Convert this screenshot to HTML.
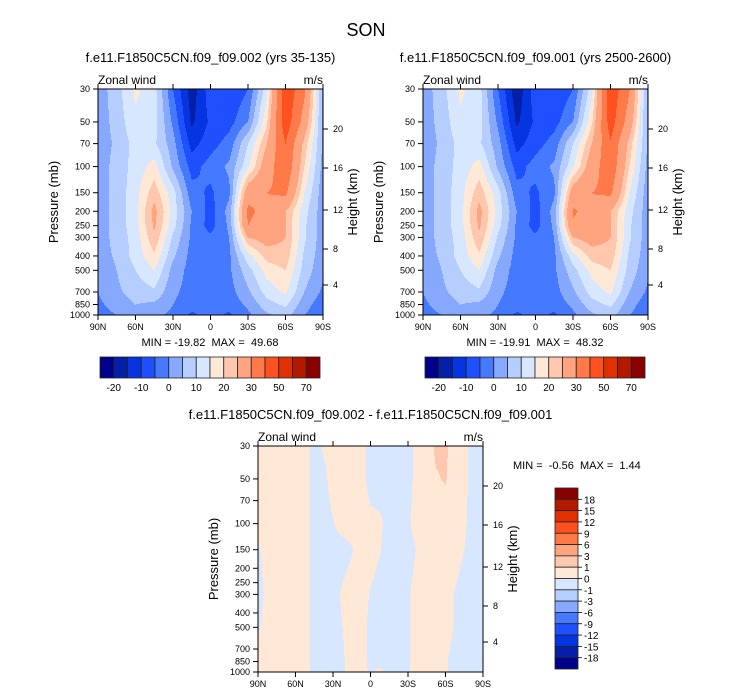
<!DOCTYPE html>
<html><head><meta charset="utf-8">
<style>
html,body{margin:0;padding:0;background:#fff;}
svg{display:block;font-family:"Liberation Sans",Arial,sans-serif;}
.pre{white-space:pre;}
</style></head>
<body>
<svg id="root" width="733" height="696" viewBox="0 0 733 696" xmlns="http://www.w3.org/2000/svg">
<text x="366" y="36" text-anchor="middle" font-size="18">SON</text>
</svg>
<script>
const lats = [90,75,60,45,30,15,0,-15,-30,-45,-60,-75,-90];
const pres = [30,50,70,100,150,200,250,300,400,500,700,850,1000];
const u1 = [
 [7,13,21,17,0,-13,-2,-5,0,18,58,42,8],
 [7,12,19,17,4,-11,-4,-2,5,24,56,36,8],
 [7,11,17,16,7,-7,-2,2,15,30,50,28,9],
 [7,12,17,22,9,-2,2,6,19,35,48,25,8],
 [7,12,18,28,17,2,-1,4,36,40,42,20,7],
 [7,12,18,32,18,5,-2,7,42,37,30,17,7],
 [7,12,18,31,17,4,-2,6,40,35,30,16,7],
 [7,12,17,29,14,4,1,5,30,33,30,16,7],
 [7,11,17,24,11,3,2,4,18,27,28,14,7],
 [6,10,15,20,8,3,2,4,13,22,25,13,6],
 [5,9,12,14,6,3,2,3,9,17,21,10,4],
 [4,7,10,9,5,2,2,2,6,13,16,7,2],
 [3,5,7,6,4,-1,2,-1,4,9,12,5,2]
];
const u2 = [
 [7,13,21,17,0,-14,-2,-5,0,18,57,41,8],
 [7,12,19,17,4,-11,-4,-2,5,24,55,35,8],
 [7,11,17,16,7,-7,-2,2,15,30,49,28,9],
 [7,12,17,22,9,-2,2,6,19,35,47,25,8],
 [7,12,18,28,17,2,-1,4,35,40,42,20,7],
 [7,12,18,32,18,5,-2,7,41,37,30,17,7],
 [7,12,18,31,17,4,-2,6,39,35,30,16,7],
 [7,12,17,29,14,4,1,5,30,33,30,16,7],
 [7,11,17,24,11,3,2,4,18,27,28,14,7],
 [6,10,15,20,8,3,2,4,13,22,25,13,6],
 [5,9,12,14,6,3,2,3,9,17,21,10,4],
 [4,7,10,9,5,2,2,2,6,13,16,7,2],
 [3,5,7,6,4,-1,2,-1,4,9,12,5,2]
];
const levels = [-20,-15,-10,-5,0,5,10,15,20,25,30,40,50,60,70];
const levelLabels = ["-20","-10","0","10","20","30","50","70"];
const diffLats = [90,82.5,75,67.5,60,52.5,45,37.5,30,22.5,15,7.5,0,-7.5,-15,-22.5,-30,-37.5,-45,-52.5,-60,-67.5,-75,-82.5,-90];
const diffPres = [30,50,100,150,300,500,850,1000];
const diffVals = [
 [.3,.3,.3,.3,.3,.3,-.3,.1,.3,.3,.3,.3,-.3,-.3,-.3,-.3,-.3,.3,.5,1.2,1.2,.4,.2,-.3,-.3],
 [.3,.3,.3,.3,.3,.3,-.3,-.2,.3,.3,.3,.3,-.3,-.3,-.3,-.3,-.3,.3,.5,.9,1.1,.4,.2,-.3,-.3],
 [.3,.3,.3,.3,.3,.3,-.3,-.3,-.05,.3,.3,.3,.2,.1,-.2,-.3,-.1,.3,.3,.3,.3,.3,.1,-.3,-.3],
 [-.1,.3,.3,.3,.3,.3,-.3,-.3,-.3,-.3,-.05,.3,.3,.05,-.3,-.3,-.3,.05,.3,.3,.3,.3,0,-.3,-.3],
 [-.3,.2,.3,.3,.3,.3,-.3,-.3,-.3,.1,.3,.3,-.05,-.3,-.3,-.3,-.1,.3,.3,.3,.3,-.05,-.3,-.3,-.3],
 [-.1,.3,.3,.3,.3,.3,-.3,-.3,-.3,0,.3,.3,-.2,-.3,-.3,-.3,-.1,.3,.3,.3,.3,-.05,-.3,-.3,-.3],
 [.3,.3,.3,.3,.3,.3,-.3,-.3,-.3,-.1,.3,.3,-.2,-.3,-.3,-.3,-.1,.3,.3,.3,.1,-.3,-.3,-.3,-.3],
 [.3,.3,.3,.3,.3,.3,-.3,-.3,-.3,-.1,.3,.3,-.1,.2,-.3,-.3,-.1,.3,.3,.3,.1,-.3,-.3,-.3,-.3]
];
const diffLevels = [-18,-15,-12,-9,-6,-3,-1,0,1,3,6,9,12,15,18];
const diffLabels = ["18","15","12","9","6","3","1","0","-1","-3","-6","-9","-12","-15","-18"];
const palette = ["#00008a","#0520a8","#0535e0","#1f50ff","#4579ff","#86a8ff","#b5cdff","#d6e7ff","#ffe8d6","#ffc8ae","#ffa47e","#ff7a48","#ff5020","#e13000","#b21a00","#8a0000"];
const latTicks = ["90N","60N","30N","0","30S","60S","90S"];
const presTicks = [30,50,70,100,150,200,250,300,400,500,700,850,1000];
const heightTicks = ["20","16","12","8","4"];
const heightRel = [40,79,121,160,196];

const NS="http://www.w3.org/2000/svg";
const root=document.getElementById('root');
function mk(tag,attrs,parent){const e=document.createElementNS(NS,tag);for(const k in attrs)e.setAttribute(k,attrs[k]);(parent||root).appendChild(e);return e;}
function txt(x,y,s,size,anchor,parent,extra){const t=mk('text',Object.assign({x:x,y:y,'font-size':size,'text-anchor':anchor||'start'},extra||{}),parent);t.textContent=s;return t;}

const LN0=Math.log(30), LNR=Math.log(1000/30);
function colorIndex(v,lv,shift){let i=0;while(i<lv.length&&v>=lv[i])i++;return Math.max(0,Math.min(palette.length-1,i-shift));}
function sample(latA,presA,vals,lat,p){
  const nL=latA.length; const fi=(latA[0]-lat)/(latA[0]-latA[nL-1])*(nL-1);
  const i0=Math.max(0,Math.min(nL-2,Math.floor(fi))); const fx=fi-i0;
  const lp=Math.log(p); let j0=0;
  while(j0<presA.length-2&&lp>Math.log(presA[j0+1]))j0++;
  const a=Math.log(presA[j0]),b=Math.log(presA[j0+1]); let fy=(lp-a)/(b-a); fy=Math.max(0,Math.min(1,fy));
  const v00=vals[j0][i0],v01=vals[j0][i0+1],v10=vals[j0+1][i0],v11=vals[j0+1][i0+1];
  return (v00*(1-fx)+v01*fx)*(1-fy)+(v10*(1-fx)+v11*fx)*fy;
}
function drawField(g,x0,y0,w,h,latA,presA,vals,lv,shift){
  for(let py=0;py<h;py++){
    const p=Math.exp(LN0+(py+0.5)/h*LNR);
    let runStart=0,runC=-1;
    for(let px=0;px<=w;px++){
      let c=-2;
      if(px<w){const lat=90-(px+0.5)/w*180;c=colorIndex(sample(latA,presA,vals,lat,p),lv,shift);}
      if(c!==runC){
        if(runC>=0){
          const r=mk('rect',{x:x0+runStart,y:y0+py,width:px-runStart,height:1.2,fill:palette[runC]},g);
          
          
        }
        runStart=px;runC=c;
      }
    }
  }
}
function yOfP(p,y0,h){return y0+h*Math.log(p/30)/LNR;}

function panel(x0,y0,w,h,title,titleY,latA,presA,vals,lv,shift,name){
  const g=mk('g',{});
  
  
  const t=txt(x0+w/2,titleY,title,13,'middle',g);
  
  
  const lz=txt(x0,y0-5,'Zonal wind',12,'start',g);
  
  
  const lu=txt(x0+w,y0-5,'m/s',12,'end',g);
  
  
  const fg=mk('g',{},g);
  
  
  drawField(fg,x0,y0,w,h,latA,presA,vals,lv,shift);
  const fr=mk('rect',{x:x0,y:y0,width:w,height:h,fill:'none',stroke:'#000','stroke-width':1},g);
  
  
  latTicks.forEach((s,i)=>{
    const x=x0+w*i/(latTicks.length-1);
    mk('line',{x1:x,y1:y0+h,x2:x,y2:y0+h+5,stroke:'#000'},g);
    mk('line',{x1:x,y1:y0,x2:x,y2:y0-5,stroke:'#000'},g);
    const l=txt(x,y0+h+15,s,9,'middle',g);
    
    
  });
  presTicks.forEach(p=>{
    const y=yOfP(p,y0,h);
    mk('line',{x1:x0,y1:y,x2:x0-5,y2:y,stroke:'#000'},g);
    const l=txt(x0-8,y+3,String(p),9,'end',g);
    
    
  });
  heightTicks.forEach((s,i)=>{
    const y=y0+heightRel[i];
    mk('line',{x1:x0+w,y1:y,x2:x0+w+5,y2:y,stroke:'#000'},g);
    const l=txt(x0+w+10,y+3,s,9,'start',g);
    
    
  });
  const ya=txt(0,0,'Pressure (mb)',13,'middle',g,{transform:`translate(${x0-40},${y0+h/2}) rotate(-90)`});
  
  
  const yb=txt(0,0,'Height (km)',13,'middle',g,{transform:`translate(${x0+w+34},${y0+h/2}) rotate(-90)`});
  
  
  return g;
}
function hColorbar(x0,y0,w,h,labels){
  const g=mk('g',{});
  
  
  const bw=w/palette.length;
  palette.forEach((c,i)=>{
    const r=mk('rect',{x:x0+i*bw,y:y0,width:bw,height:h,fill:c,stroke:'#222','stroke-width':0.8},g);
    
    
  });
  labels.forEach((s,i)=>{
    const l=txt(x0+bw*(1+2*i),y0+h+13,s,10,'middle',g);
    
    
  });
}
function vColorbar(x0,y0,w,h,labels){
  const g=mk('g',{});
  
  
  const bh=h/palette.length;
  for(let i=0;i<palette.length;i++){
    const r=mk('rect',{x:x0,y:y0+i*bh,width:w,height:bh,fill:palette[palette.length-1-i],stroke:'#222','stroke-width':0.8},g);
    
    
  }
  labels.forEach((s,i)=>{
    const y=y0+bh*(i+1);
    mk('line',{x1:x0+w,y1:y,x2:x0+w+4,y2:y,stroke:'#000','stroke-width':0.8},g);
    const l=txt(x0+w+6,y+4,s,10,'start',g);
    
    
  });
}

panel(98,89,225,226,'f.e11.F1850C5CN.f09_f09.002 (yrs 35-135)',62,lats,pres,u1,levels,1,'panel-run-002');
panel(423,89,225,226,'f.e11.F1850C5CN.f09_f09.001 (yrs 2500-2600)',62,lats,pres,u2,levels,1,'panel-run-001');
panel(258,446,225,226,'f.e11.F1850C5CN.f09_f09.002 - f.e11.F1850C5CN.f09_f09.001',419,diffLats,diffPres,diffVals,diffLevels,0,'panel-difference');

const m1=txt(210,346,'MIN = -19.82  MAX =  49.68',11,'middle',root,{'class':'pre'});


const m2=txt(535,346,'MIN = -19.91  MAX =  48.32',11,'middle',root,{'class':'pre'});


const m3=txt(513,469,'MIN =  -0.56  MAX =  1.44',11,'start',root,{'class':'pre'});



hColorbar(100,357,220,21,levelLabels);
hColorbar(425,357,220,21,levelLabels);
vColorbar(555,488,23,181,diffLabels);
</script>
</body></html>
